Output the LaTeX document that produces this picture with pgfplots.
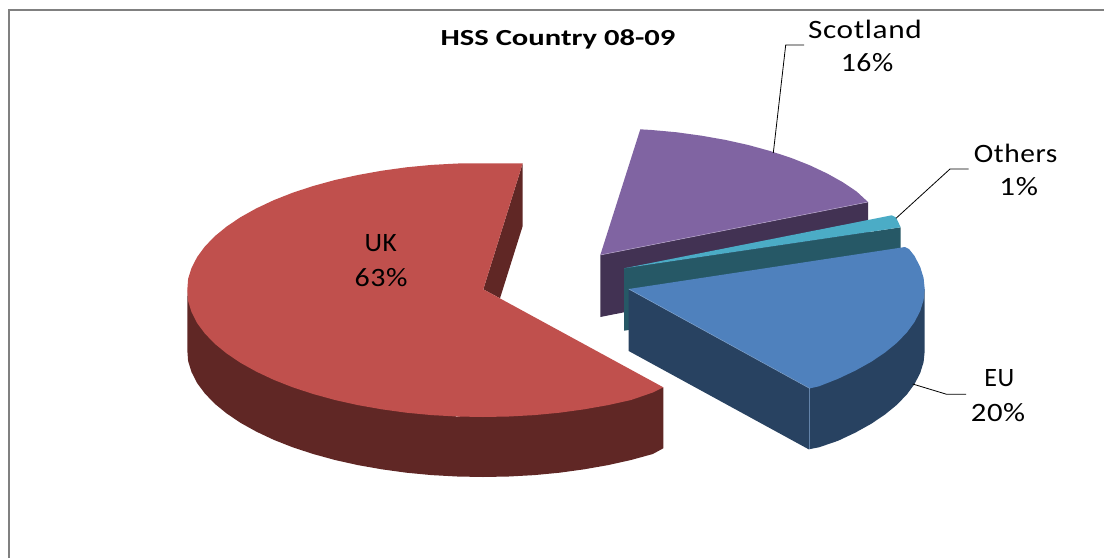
\documentclass[border=0pt]{standalone}
\usepackage{pgfplots}
\usepackage{graphicx}
\pgfplotsset{compat=1.18}
\usepackage{fontspec}
\setmainfont{Carlito}
\definecolor{ukTop}{HTML}{C0504D}
\definecolor{ukSide}{HTML}{602725}
\definecolor{euTop}{HTML}{4F81BD}
\definecolor{euSide}{HTML}{284261}
\definecolor{otTop}{HTML}{4BACC6}
\definecolor{otSide}{HTML}{265866}
\definecolor{scTop}{HTML}{8064A2}
\definecolor{scSide}{HTML}{423253}
% slice label: horizontal stretch, then text
\newcommand{\lab}[2]{\scalebox{#1}[1]{\fontsize{26.5}{26.5}\selectfont\addfontfeature{LetterSpace=2}#2}}
\begin{document}
\begin{tikzpicture}
\useasboundingbox (0,0) rectangle (1104pt,558pt);
\begin{axis}[
  at={(0,0)}, anchor=south west,
  scale only axis, width=1104pt, height=558pt,
  xmin=0, xmax=1104, ymin=0, ymax=558, y dir=reverse,
  axis lines=none, clip=true,
]
% frame of the chart area
\addplot[draw=black!50, line width=2pt] coordinates {(8.5,558) (8.5,9.5) (1104,9.5)};

% Scotland slice
\addplot[fill=scSide, draw=none] coordinates {(600.3,255) (868,202) (868,264) (600.3,317)} --cycle;
\addplot[fill=scTop, draw=none] coordinates {(640.3,129.3) (651.7,130) (662.9,131) (676.9,132.3) (701.5,135.7) (725.4,139.9) (748.3,145) (770.1,151) (790.6,157.7) (809.6,165.2) (827,173.4) (842.8,182.2) (856.6,191.5) (868,202) (600.3,255)} --cycle;
\addplot[draw=scTop!60!white, line width=0.5pt] coordinates {(600.3,255) (868,202)};

% Others slice
\addplot[fill=otSide, draw=none] coordinates {(624,268.3) (900.7,227.3) (900.7,289) (624,330.7)} --cycle;
\addplot[fill=otTop, draw=none] coordinates {(624,268.3) (891.7,215.3) (896,217.5) (900.7,227.3)} --cycle;

% UK slice: inner wall, outer wall, top face
\addplot[fill=ukSide, draw=none] coordinates {(483.3,289.3) (522.7,163.3) (522.7,226) (500,298.3)} --cycle;
\addplot[fill=ukSide, draw=none] coordinates {(187.3,290) (188.1,301) (456.7,416.7) (663.3,387.3) (663.3,448.3) (652.8,454) (631,460) (608.1,465.1) (584.2,469.3) (559.6,472.7) (534.4,475.1) (508.8,476.5) (483,477) (457.2,476.5) (431.6,475.1) (406.4,472.7) (381.8,469.3) (357.9,465.1) (335,460) (313.2,454) (292.7,447.3) (273.7,439.8) (256.3,431.6) (240.5,422.8) (226.7,413.5) (214.7,403.7) (204.8,393.4) (197,382.9) (191.5,372) (188.1,361) (187.3,350)} --cycle;
\addplot[fill=ukTop, draw=none] coordinates {(522.7,163.3) (500,163.3) (483,163.3) (457.2,163.5) (431.6,164.9) (406.4,167.3) (381.8,170.7) (357.9,175) (335,180) (313.2,186) (292.7,192.7) (273.7,200.2) (256.3,208.4) (240.5,217.2) (226.7,226.5) (214.7,236.3) (204.8,246.6) (197.1,257.1) (191.5,268) (188.1,278.9) (187.3,290) (188.1,301) (191.5,312) (197,322.9) (204.8,333.4) (214.7,343.7) (226.7,353.5) (240.5,362.8) (256.3,371.6) (273.7,379.8) (292.7,387.3) (313.2,394) (335,400) (357.9,405.1) (381.8,409.3) (406.4,412.7) (431.6,415.1) (457.2,416.5) (483,417) (508.8,416.5) (534.4,415.1) (559.6,412.7) (584.2,409.3) (608.1,405.1) (631,400) (652.8,392.5) (663.3,387.3) (483.3,289.3)} --cycle;

% EU slice
\addplot[fill=euSide, draw=none] coordinates {(628.7,289) (924.7,289) (924.7,351) (923.6,362.1) (920.2,373) (914.6,383.9) (906.9,394.4) (897,404.7) (885,414.5) (871.2,423.8) (855.4,432.6) (838,440.8) (819,447.3) (808.7,449.3) (628.7,351)} --cycle;
\addplot[fill=euTop, draw=none] coordinates {(628.7,289) (905,247) (909,249) (914.6,256.1) (920.2,267) (923.6,277.9) (924.7,289) (923.6,300.1) (920.2,311) (914.6,321.9) (906.9,332.4) (897,342.7) (885,352.5) (871.2,361.8) (855.4,370.6) (838,378.8) (819,386.3) (810,388.3)} --cycle;
\addplot[draw=euTop!70!white, line width=0.5pt] coordinates {(628.7,289) (809.5,388.3) (809.5,449)};

% leader lines
\addplot[black, line width=0.8pt] coordinates {(773.3,153) (785.7,45) (804,45)};
\addplot[black, line width=0.8pt] coordinates {(896,218.3) (950,169) (968.7,169)};
\addplot[black, line width=0.8pt] coordinates {(912.7,384) (946.7,394.3) (966,394.3)};

% title and slice labels
\node[anchor=base, inner sep=0pt] at (axis cs:558,45.5) {\scalebox{1.33}[1]{\fontsize{23}{23}\selectfont\bfseries HSS Country 08-09}};
\node[anchor=base, inner sep=0pt] at (axis cs:865,38) {\lab{1.18}{Scotland}};
\node[anchor=base, inner sep=0pt] at (axis cs:867,71.7) {\lab{1.12}{16\%}};
\node[anchor=base, inner sep=0pt] at (axis cs:1015.7,162.3) {\lab{1.11}{Others}};
\node[anchor=base, inner sep=0pt] at (axis cs:1018.7,195.7) {\lab{1.17}{1\%}};
\node[anchor=base, inner sep=0pt] at (axis cs:999.3,386.7) {\lab{0.98}{EU}};
\node[anchor=base, inner sep=0pt] at (axis cs:998,421) {\lab{1.16}{20\%}};
\node[anchor=base, inner sep=0pt] at (axis cs:380.7,251.7) {\lab{1.03}{UK}};
\node[anchor=base, inner sep=0pt] at (axis cs:381,286) {\lab{1.13}{63\%}};
\end{axis}
\end{tikzpicture}
\end{document}
